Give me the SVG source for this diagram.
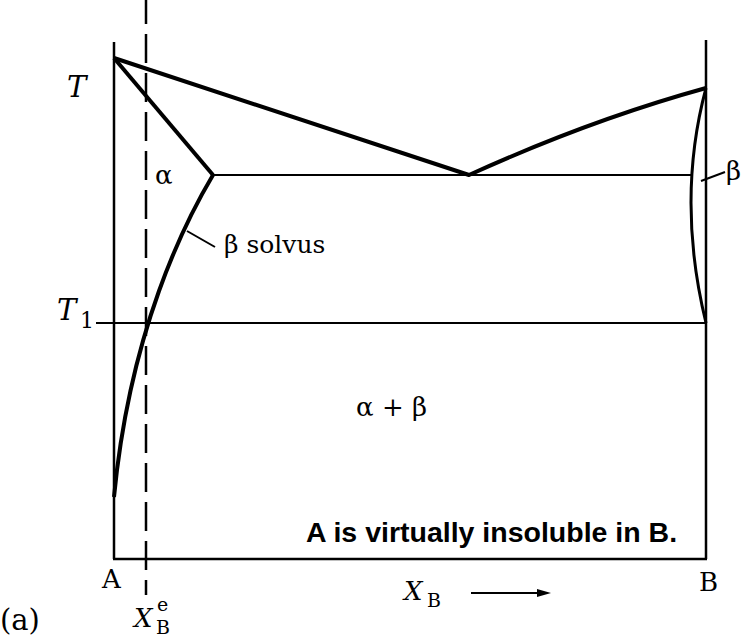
<svg xmlns="http://www.w3.org/2000/svg" width="744" height="642" viewBox="0 0 744 642">
<style>
.ax{stroke:#000;stroke-width:2.5;fill:none}
.thin{stroke:#000;stroke-width:2;fill:none}
.thick{stroke:#000;stroke-width:4;fill:none;stroke-linejoin:round}
.dash{stroke:#000;stroke-width:2.5;fill:none;stroke-dasharray:29 10;stroke-dashoffset:5}
.lbl{font-family:"DejaVu Serif","Liberation Serif",serif;font-size:26px;fill:#000}
.it{font-style:italic}
.sub{font-size:19px}
.note{font-family:"Liberation Sans",Arial,sans-serif;font-size:28.5px;font-weight:bold;fill:#000}
</style>
<rect width="744" height="642" fill="#fff"/>
<g id="axes">
<line class="ax" x1="114" y1="42" x2="114" y2="559"/>
<line class="ax" x1="113" y1="559" x2="707" y2="559"/>
<line class="ax" x1="706" y1="40" x2="706" y2="559"/>
</g>
<g id="connectors">
<line id="xe-dashed" class="dash" x1="146" y1="0" x2="146" y2="595"/>
<path id="liquidus" class="thick" d="M114,58 L469,175 Q590,120 706,88"/>
<path id="alpha-solidus" class="thick" d="M114,58 L213,175"/>
<line id="eutectic" class="thin" x1="213" y1="175" x2="691" y2="175"/>
<line id="t1-line" class="thin" x1="96" y1="323" x2="706" y2="323"/>
<path id="beta-solvus" class="thick" d="M213,175 C185,222 130,330 114,497"/>
<path id="beta-solidus" class="thin" style="stroke-width:3" d="M706,88 Q676,200 706,323"/>
<line id="solvus-leader" class="thin" x1="187" y1="231" x2="215" y2="247"/>
<line id="beta-leader" class="thin" x1="701" y1="181" x2="725" y2="172"/>
<line id="xb-arrow" class="thin" x1="471" y1="593" x2="540" y2="593"/>
<polygon points="537,589 551,593 537,597" fill="#000"/>
</g>
<g id="label-T"><text class="lbl it" x="67" y="97" style="font-size:29px">T</text></g>
<g id="label-T1"><text class="lbl it" x="57" y="320" style="font-size:29px">T</text><text class="lbl" x="80" y="328" style="font-size:22px">1</text></g>
<g id="label-alpha"><text class="lbl" x="155" y="184">α</text></g>
<g id="label-beta-solvus"><text class="lbl" x="224" y="253" style="font-size:25px">β solvus</text></g>
<g id="label-alpha-beta"><text class="lbl" x="427" y="416" text-anchor="end">α + β</text></g>
<g id="label-beta"><text class="lbl" x="726" y="180">β</text></g>
<g id="label-A"><text class="lbl" x="102" y="588">A</text></g>
<g id="label-B"><text class="lbl" x="699" y="591">B</text></g>
<g id="label-a"><text class="lbl" x="0" y="630" style="font-size:29px">(a)</text></g>
<g id="label-XBe"><text class="lbl it" x="134" y="627">X</text><text class="lbl sub" x="157" y="611">e</text><text class="lbl sub" x="156" y="634">B</text></g>
<g id="label-XB"><text class="lbl it" x="404" y="600">X</text><text class="lbl sub" x="427" y="607">B</text></g>
<g id="note"><text class="note" x="306" y="542">A is virtually insoluble in B.</text></g>
</svg>
